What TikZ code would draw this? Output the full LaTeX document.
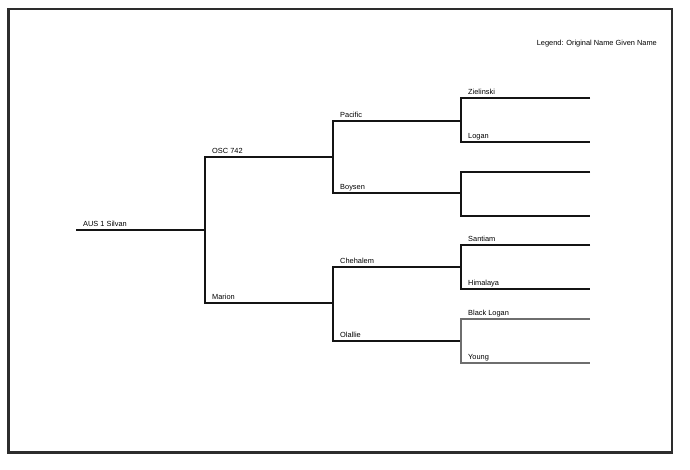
\documentclass[tikz,border=0pt]{standalone}
\usepackage{fontspec}
\setmainfont{Liberation Sans}
\usetikzlibrary{calc,positioning}
\definecolor{pedgray}{RGB}{110,110,110}
\definecolor{framegray}{RGB}{45,45,45}
\tikzset{
 pedline/.style={line width=2pt,black!92},
 pedthin/.style={line width=1.5pt,pedgray},
 pedname/.style={font=\fontsize{7.4}{8.5}\selectfont,anchor=base west,inner sep=0pt}
}

\begin{document}
\begin{tikzpicture}[x=1pt,y=-1pt,line join=miter]
 \useasboundingbox (0,0) rectangle (690,470);
 \draw[framegray,line width=2.4pt] (8.5,9) rectangle (672,452.5);
 \node[pedname,anchor=base east] (legend) at (657,45.3) {Legend: Original Name Given Name};
 % Generations: root, parents, grandparents, great-grandparents.
 \coordinate (silvan) at (76,230);
 \coordinate (osc) at (205,157);
 \coordinate (marion) at (205,303);
 \coordinate (pacific) at (333,121);
 \coordinate (boysen) at (333,193);
 \coordinate (chehalem) at (333,267);
 \coordinate (olallie) at (333,341);
 \coordinate (zielinski) at (461,98);
 \coordinate (logan) at (461,142);
 \coordinate (unknowna) at (461,172);
 \coordinate (unknownb) at (461,216);
 \coordinate (santiam) at (461,245);
 \coordinate (himalaya) at (461,289);
 \coordinate (blacklogan) at (461,319);
 \coordinate (young) at (461,363);
 \coordinate (tip) at (590,0);
 % Brackets.
 \draw[pedline] (silvan) -- (silvan -| osc);
 \draw[pedline] (osc -| pacific) -- (osc) -- (marion) -- (marion -| chehalem);
 \draw[pedline] (pacific -| zielinski) -- (pacific) -- (boysen) -- (boysen -| unknowna);
 \draw[pedline] (chehalem -| santiam) -- (chehalem) -- (olallie) -- (olallie -| blacklogan);
 \draw[pedline] (zielinski -| tip) -- (zielinski) -- (logan) -- (logan -| tip);
 \draw[pedline] (unknowna -| tip) -- (unknowna) -- (unknownb) -- (unknownb -| tip);
 \draw[pedline] (santiam -| tip) -- (santiam) -- (himalaya) -- (himalaya -| tip);
 \draw[pedthin] (blacklogan -| tip) -- (blacklogan) -- (young) -- (young -| tip);
 % Names above the lines.
 \node[pedname] (silvanlbl) at ([shift={(7,-3.8)}]silvan) {AUS 1 Silvan};
 \node[pedname] (osclbl) at ([shift={(7,-3.8)}]osc) {OSC 742};
 \node[pedname] (marionlbl) at ([shift={(7,-3.8)}]marion) {Marion};
 \node[pedname] (pacificlbl) at ([shift={(7,-3.8)}]pacific) {Pacific};
 \node[pedname] (boysenlbl) at ([shift={(7,-3.8)}]boysen) {Boysen};
 \node[pedname] (chehalemlbl) at ([shift={(7,-3.8)}]chehalem) {Chehalem};
 \node[pedname] (olallielbl) at ([shift={(7,-3.8)}]olallie) {Olallie};
 \node[pedname] (zielinskilbl) at ([shift={(7,-3.8)}]zielinski) {Zielinski};
 \node[pedname] (loganlbl) at ([shift={(7,-3.8)}]logan) {Logan};
 \node[pedname] (santiamlbl) at ([shift={(7,-3.8)}]santiam) {Santiam};
 \node[pedname] (himalayalbl) at ([shift={(7,-3.8)}]himalaya) {Himalaya};
 \node[pedname] (blackloganlbl) at ([shift={(7,-3.8)}]blacklogan) {Black Logan};
 \node[pedname] (younglbl) at ([shift={(7,-3.8)}]young) {Young};
\end{tikzpicture}
\end{document}
